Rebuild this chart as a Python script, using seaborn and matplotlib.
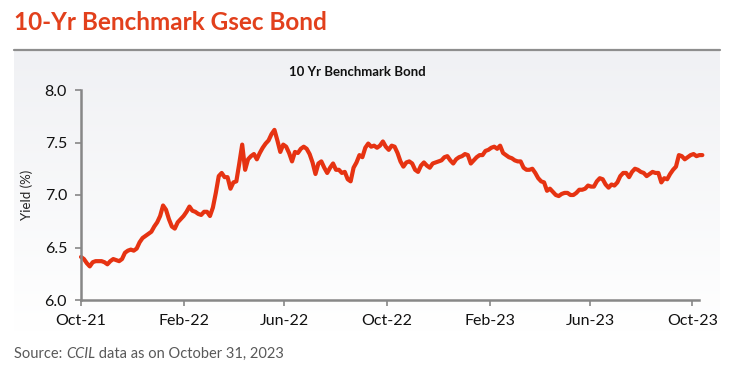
import matplotlib
matplotlib.use("Agg")
import matplotlib.pyplot as plt
from matplotlib.colors import LinearSegmentedColormap
from matplotlib.lines import Line2D
import numpy as np
import pandas as pd
import seaborn as sns

TITLE = "10-Yr Benchmark Gsec Bond"
CHART_TITLE = "10 Yr Benchmark Bond"
Y_LABEL = "Yield (%)"
SOURCE_PARTS = ["Source: ", "CCIL", " data as on October 31, 2023"]

# twice-weekly readings of the 10Y benchmark yield (%), Oct-2021 .. Oct-2023
obs_dates = pd.date_range("2021-10-01", periods=213, freq="84h")
yields = [
    6.41, 6.39, 6.35, 6.32, 6.36, 6.37, 6.37, 6.37, 6.36, 6.34,
    6.37, 6.39, 6.38, 6.37, 6.39, 6.45, 6.47, 6.48, 6.47, 6.49,
    6.55, 6.59, 6.61, 6.63, 6.65, 6.70, 6.74, 6.80, 6.90, 6.86,
    6.77, 6.70, 6.68, 6.74, 6.77, 6.80, 6.84, 6.89, 6.85, 6.84,
    6.82, 6.81, 6.84, 6.84, 6.80, 6.88, 7.02, 7.18, 7.21, 7.17,
    7.17, 7.06, 7.12, 7.13, 7.30, 7.48, 7.24, 7.34, 7.37, 7.39,
    7.34, 7.40, 7.45, 7.49, 7.52, 7.58, 7.62, 7.52, 7.41, 7.48,
    7.46, 7.40, 7.32, 7.41, 7.40, 7.44, 7.46, 7.44, 7.39, 7.31,
    7.20, 7.30, 7.32, 7.26, 7.21, 7.26, 7.30, 7.24, 7.24, 7.21,
    7.22, 7.15, 7.13, 7.26, 7.31, 7.38, 7.36, 7.45, 7.49, 7.46,
    7.47, 7.45, 7.47, 7.51, 7.46, 7.43, 7.47, 7.46, 7.40, 7.32,
    7.27, 7.31, 7.32, 7.30, 7.24, 7.22, 7.28, 7.31, 7.28, 7.26,
    7.30, 7.31, 7.32, 7.33, 7.36, 7.37, 7.33, 7.30, 7.34, 7.36,
    7.37, 7.39, 7.38, 7.30, 7.33, 7.36, 7.38, 7.38, 7.42, 7.43,
    7.45, 7.46, 7.44, 7.47, 7.40, 7.38, 7.36, 7.35, 7.33, 7.32,
    7.32, 7.26, 7.24, 7.24, 7.25, 7.21, 7.16, 7.13, 7.12, 7.04,
    7.06, 7.03, 7.00, 6.99, 7.01, 7.02, 7.02, 7.00, 7.00, 7.02,
    7.05, 7.05, 7.06, 7.09, 7.08, 7.08, 7.13, 7.16, 7.15, 7.10,
    7.07, 7.10, 7.09, 7.12, 7.18, 7.21, 7.21, 7.17, 7.22, 7.25,
    7.24, 7.22, 7.21, 7.18, 7.20, 7.22, 7.21, 7.21, 7.12, 7.16,
    7.15, 7.20, 7.24, 7.27, 7.38, 7.37, 7.34, 7.36, 7.38, 7.39,
    7.37, 7.38, 7.38,
]
tick_dates = pd.to_datetime([
    "2021-10-01", "2022-02-01", "2022-06-01", "2022-10-01",
    "2023-02-01", "2023-06-01", "2023-10-01",
])
tick_labels = ["Oct-21", "Feb-22", "Jun-22", "Oct-22", "Feb-23", "Jun-23", "Oct-23"]
y_ticks = [6.0, 6.5, 7.0, 7.5, 8.0]

LINE_COLOR = "#E63312"
TITLE_COLOR = "#E2401C"
AXIS_COLOR = "#878787"

sns.set_theme(style="white")
plt.rcParams["font.family"] = ["Lato", "DejaVu Sans"]

W, H = 741, 374
fig = plt.figure(figsize=(W / 100, H / 100), dpi=100)


def fx(px):
    return px / W


def fy(py):
    return 1 - py / H


fig.text(fx(14), fy(22), TITLE, color=TITLE_COLOR, fontsize=17.5,
         fontweight="bold", va="center", ha="left")

# shaded panel behind the chart
bg = fig.add_axes([fx(14), fy(332), fx(720) - fx(14), fy(50) - fy(332)], zorder=0)
grad = np.linspace(0, 1, 256).reshape(-1, 1)
cmap = LinearSegmentedColormap.from_list("panel", ["#F0F1F4", "#FFFFFF"])
bg.imshow(grad, aspect="auto", cmap=cmap, extent=[0, 1, 0, 1], origin="upper")
bg.set_axis_off()
fig.add_artist(Line2D([fx(14), fx(720)], [fy(50), fy(50)], color="#8E8E8E",
                      lw=1.6, transform=fig.transFigure))

ax = fig.add_axes([fx(81), fy(300), fx(699) - fx(81), fy(90) - fy(300)], zorder=1)
ax.patch.set_alpha(0)
df = pd.DataFrame({"date": obs_dates, "yield": yields})
sns.lineplot(data=df, x="date", y="yield", ax=ax, color=LINE_COLOR, lw=3.0)
for ln in ax.lines:
    ln.set_clip_on(False)
    ln.set_solid_joinstyle("round")

ax.set_xlim(pd.Timestamp("2021-10-01"), pd.Timestamp("2023-10-09"))
ax.set_ylim(6.0, 8.0)
ax.set_xticks(tick_dates)
ax.set_xticklabels(tick_labels)
ax.set_yticks(y_ticks)
ax.set_yticklabels([f"{v:.1f}" for v in y_ticks])
ax.set_xlabel("")
ax.set_ylabel("")
for side in ["top", "right"]:
    ax.spines[side].set_visible(False)
for side in ["left", "bottom"]:
    ax.spines[side].set_color(AXIS_COLOR)
    ax.spines[side].set_linewidth(1.8)
ax.tick_params(axis="y", direction="out", length=4, width=1.2, color=AXIS_COLOR,
               labelsize=11.5, labelcolor="#111111", pad=6, left=True)
ax.tick_params(axis="x", direction="out", length=4, width=1.2, color=AXIS_COLOR,
               labelsize=11.5, labelcolor="#111111", pad=6, bottom=True)

fig.text(fx(357), fy(72), CHART_TITLE, fontsize=9.5, fontweight="bold",
         ha="center", va="center", color="#111111")
fig.text(fx(27), fy(195), Y_LABEL, fontsize=9.5, rotation=90, ha="center",
         va="center", color="#222222")

# source line with italic CCIL
fig.canvas.draw()
renderer = fig.canvas.get_renderer()
x_cur = fx(14)
for part, style in zip(SOURCE_PARTS, ["normal", "italic", "normal"]):
    t = fig.text(x_cur, fy(354), part, fontsize=10.5, style=style, color="#595959",
                 ha="left", va="center")
    bb = t.get_window_extent(renderer)
    x_cur += bb.width / W

fig.savefig("out.png", dpi=100)
